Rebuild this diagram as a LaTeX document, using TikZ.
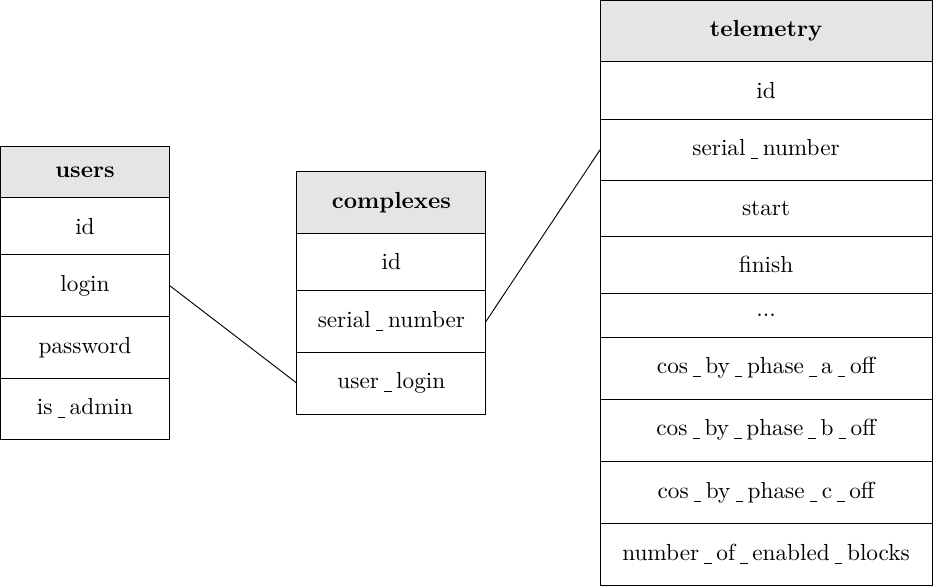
\documentclass[tikz,border=0pt]{standalone}
\usepackage{tikz}
\usetikzlibrary{positioning}

\newcommand{\us}{\hspace{2.2pt}\rule[-1.5pt]{3.2pt}{0.4pt}\hspace{2pt}\vphantom{p}}
\newcommand{\etcdots}{...}

\begin{document}
\begin{tikzpicture}[
    tblhead/.style={draw, fill=gray!20, font=\bfseries, inner xsep=2pt, inner ysep=8.8pt, outer sep=0pt, anchor=north west},
    tblrow/.style={draw, inner xsep=2pt, inner ysep=8.8pt, outer sep=0pt},
]
    \useasboundingbox (0pt,0pt) rectangle (401.3pt,-252.5pt);
    % users
    \node[tblhead, minimum width=73.1pt] (u0) at (0pt,-62.8pt) {users};
    \foreach \f [count=\i] in {id, login, password, is\us admin} {
        \pgfmathtruncatemacro{\j}{\i-1}
        \node[tblrow, minimum width=73.1pt, below=0pt of u\j] (u\i) {\f};
    }
    % complexes
    \node[tblhead, minimum width=81.3pt] (c0) at (127.7pt,-73.9pt) {complexes};
    \foreach \f [count=\i] in {id, serial\us number, user\us login} {
        \pgfmathtruncatemacro{\j}{\i-1}
        \node[tblrow, minimum width=81.3pt, below=0pt of c\j] (c\i) {\f};
    }
    % telemetry
    \node[tblhead, minimum width=142.8pt] (t0) at (258.1pt,0pt) {telemetry};
    \foreach \f [count=\i] in {id, serial\us number, start, finish, \etcdots,
        cos\us by\us phase\us a\us off, cos\us by\us phase\us b\us off,
        cos\us by\us phase\us c\us off, number\us of\us enabled\us blocks} {
        \pgfmathtruncatemacro{\j}{\i-1}
        \node[tblrow, minimum width=142.8pt, below=0pt of t\j] (t\i) {\f};
    }
    % links
    \draw (u2.east) -- (c3.west);
    \draw (c2.east) -- (t2.west);
\end{tikzpicture}
\end{document}
